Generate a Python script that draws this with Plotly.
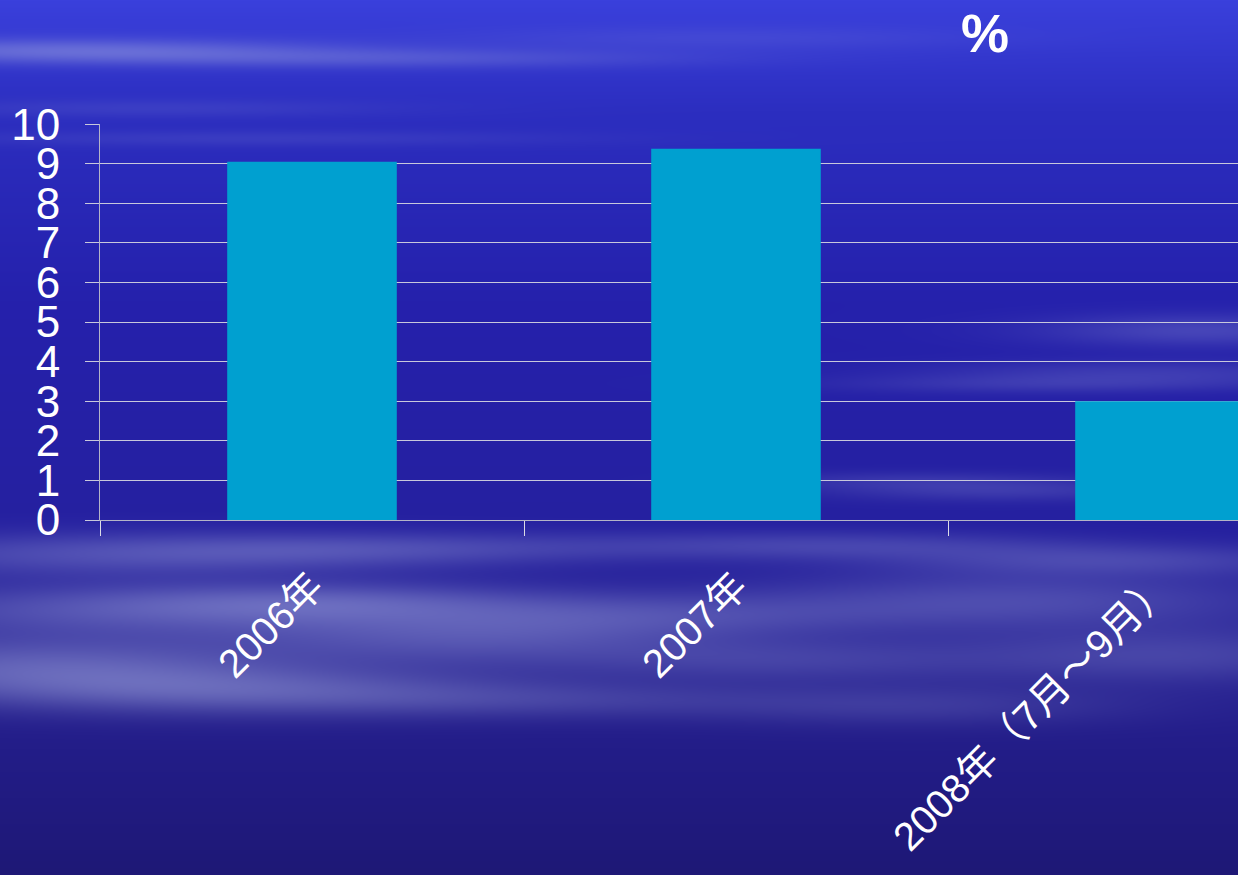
import base64
import struct
import zlib

import numpy as np
import plotly.graph_objects as go

# Growth rate by period (%)
categories = ["2006年", "2007年", "2008年（7月～9月）"]
values = [9.05, 9.38, 3.0]
y_ticks = list(range(0, 11))

W, H = 1238, 875
L, T, B = 100, 124, 355
PLOT_W = 1138
PLOT_H = H - T - B


def png_data_uri(rgb):
    """Encode an HxWx3 uint8 array as a PNG data URI."""
    h, w, _ = rgb.shape
    raw = b"".join(b"\x00" + rgb[r].tobytes() for r in range(h))

    def chunk(tag, data):
        c = tag + data
        return struct.pack(">I", len(data)) + c + struct.pack(">I", zlib.crc32(c) & 0xFFFFFFFF)

    png = b"\x89PNG\r\n\x1a\n"
    png += chunk(b"IHDR", struct.pack(">IIBBBBB", w, h, 8, 2, 0, 0, 0))
    png += chunk(b"IDAT", zlib.compress(raw, 9))
    png += chunk(b"IEND", b"")
    return "data:image/png;base64," + base64.b64encode(png).decode()


def sky_background():
    yy, xx = np.mgrid[0:H, 0:W].astype(float)
    # vertical blue gradient
    stop_y = [0, 110, 300, 520, 720, 875]
    stop_c = np.array([
        [58, 64, 220],
        [44, 46, 192],
        [37, 33, 172],
        [37, 32, 160],
        [36, 30, 140],
        [30, 24, 118],
    ], dtype=float)
    col = np.stack([np.interp(yy[:, 0], stop_y, stop_c[:, k]) for k in range(3)], axis=1)
    img = np.repeat(col[:, None, :], W, axis=1)

    # soft cloud haze (cx, cy, sx, sy, strength)
    puffs = [
        # upper streaks
        (60, 50, 260, 12, 0.42), (380, 58, 300, 10, 0.25), (720, 38, 260, 12, 0.12),
        (150, 108, 240, 9, 0.12), (250, 138, 320, 8, 0.12),
        # broad band under the axis, left half
        (120, 555, 320, 22, 0.30), (380, 548, 260, 16, 0.22), (160, 610, 320, 26, 0.36),
        (30, 665, 260, 30, 0.42), (230, 690, 280, 24, 0.38), (470, 640, 240, 26, 0.30),
        (640, 615, 260, 22, 0.26), (320, 600, 220, 18, 0.22), (540, 700, 260, 18, 0.18),
        (780, 660, 220, 22, 0.22),
        # right side
        (1020, 600, 260, 28, 0.30), (1170, 655, 220, 28, 0.26), (920, 705, 220, 20, 0.18),
        (1200, 330, 160, 16, 0.26), (1150, 372, 220, 12, 0.18), (1050, 384, 220, 9, 0.15),
        (1000, 490, 170, 11, 0.18), (900, 480, 160, 9, 0.12), (820, 545, 240, 14, 0.24),
        (1110, 560, 220, 16, 0.26),
    ]
    alpha = np.zeros((H, W))
    for cx, cy, sx, sy, a in puffs:
        alpha += a * np.exp(-(((xx - cx) / sx) ** 2 + ((yy - cy) / sy) ** 2))
    alpha = np.clip(alpha, 0, 0.75)[..., None]
    cloud = np.array([165, 172, 225], dtype=float)
    img = img * (1 - alpha) + cloud * alpha
    return np.clip(img, 0, 255).astype(np.uint8)


fig = go.Figure()
fig.add_trace(go.Bar(
    x=categories,
    y=values,
    width=0.4,
    marker=dict(color="#00A0D0", line=dict(width=0)),
))

label_font = dict(family="Liberation Sans, Arial, Noto Sans CJK SC", color="white")

fig.update_layout(
    width=W,
    height=H,
    margin=dict(l=L, r=0, t=T, b=B, autoexpand=False),
    paper_bgcolor="#25209a",
    plot_bgcolor="rgba(0,0,0,0)",
    showlegend=False,
    bargap=0.6,
    images=[dict(
        source=png_data_uri(sky_background()),
        xref="paper", yref="paper",
        x=-L / PLOT_W, y=1 + T / PLOT_H,
        sizex=W / PLOT_W, sizey=H / PLOT_H,
        xanchor="left", yanchor="top",
        sizing="stretch", layer="below",
    )],
    xaxis=dict(
        type="category",
        categoryorder="array",
        categoryarray=categories,
        range=[-0.5, -0.5 + PLOT_W / 424],
        tickson="boundaries",
        ticks="outside",
        ticklen=15,
        tickwidth=1,
        tickcolor="#dcdce6",
        showline=True,
        linecolor="#b4b4c8",
        linewidth=1,
        showgrid=False,
        tickangle=-45,
        tickfont=dict(size=40, **label_font),
        ticklabelstandoff=26,
    ),
    yaxis=dict(
        range=[0, 10.003],
        tickvals=y_ticks,
        showgrid=True,
        gridcolor="#c8c8dc",
        gridwidth=1,
        zeroline=False,
        ticks="outside",
        ticklen=14,
        tickwidth=1,
        tickcolor="#c8c8dc",
        showline=True,
        linecolor="#b4b4c8",
        linewidth=1,
        tickfont=dict(size=44, **label_font),
        ticklabelstandoff=16,
    ),
    annotations=[dict(
        text="<b>%</b>",
        xref="paper", yref="paper",
        x=(985 - L) / PLOT_W, y=(H - B - 33) / PLOT_H,
        xanchor="center", yanchor="middle",
        showarrow=False,
        font=dict(size=54, **label_font),
    )],
)

fig.write_html("out.html")
